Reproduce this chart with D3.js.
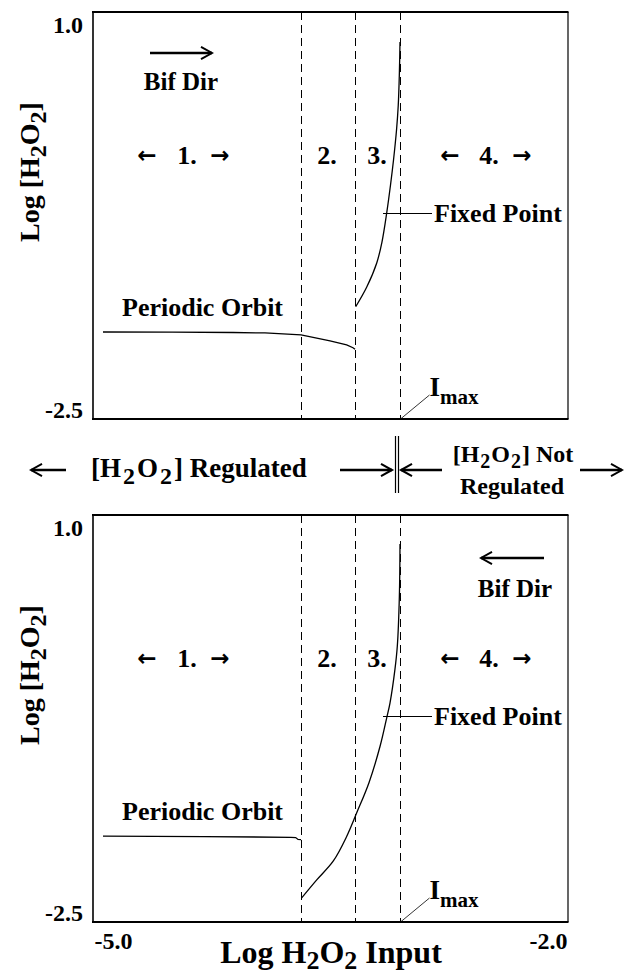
<!DOCTYPE html>
<html>
<head>
<meta charset="utf-8">
<script src="https://cdn.jsdelivr.net/npm/d3@7"></script>
<style>
  html, body { margin: 0; padding: 0; background: #fff; }
  svg { display: block; }
  text { font-family: "Liberation Serif", "Times New Roman", serif; font-weight: bold; fill: #000; }
  text.arw { font-family: "DejaVu Sans", sans-serif; }
</style>
</head>
<body>
<svg id="chart" width="636" height="979"></svg>
<script>
// Axis ranges: log H2O2 input (bifurcation parameter) vs log [H2O2]
const xDomain = [-5.0, -2.0];
const yDomain = [-2.5, 1.0];
const xTickValues = [-5.0, -2.0];
const xTickLabels = ["-5.0", "-2.0"];
const yTickValues = [1.0, -2.5];
const yTickLabels = ["1.0", "-2.5"];

// Dashed region boundaries; the last one is I_max
const regionBounds = [-3.686, -3.345, -3.061];

// Upper panel (continuation with increasing input)
const periodicUpX = [-4.937, -4.5, -4.116, -3.914, -3.686, -3.503, -3.398, -3.358, -3.345];
const periodicUpY = [-1.752, -1.753, -1.756, -1.760, -1.777, -1.829, -1.863, -1.887, -1.900];
const fixedUpX = [-3.341, -3.271, -3.208, -3.175, -3.145, -3.121, -3.102, -3.083, -3.072, -3.065, -3.061];
const fixedUpY = [-1.535, -1.365, -1.158, -0.978, -0.728, -0.488, -0.273, -0.015, 0.200, 0.475, 0.742];

// Lower panel (continuation with decreasing input)
const periodicDownX = [-4.937, -4.3, -3.75, -3.72, -3.705, -3.686];
const periodicDownY = [-1.762, -1.765, -1.772, -1.774, -1.790, -1.792];
const fixedDownX = [-3.682, -3.587, -3.482, -3.398, -3.335, -3.257, -3.187, -3.145, -3.124, -3.093, -3.078, -3.065, -3.061];
const fixedDownY = [-2.293, -2.138, -1.975, -1.765, -1.563, -1.302, -0.989, -0.744, -0.615, -0.328, -0.127, 0.304, 0.750];

const svg = d3.select("#chart");
const left = 93, right = 568, panelH = 407;
const x = d3.scaleLinear().domain(xDomain).range([left, right]);
const crisp = v => Math.round(v) + 0.5;

function arrow(g, x1, y, x2, width, head) {
  // straight arrow from x1 to x2 with an open chevron head at x2
  const dir = x2 > x1 ? 1 : -1;
  g.append("line").attr("x1", x1).attr("y1", y).attr("x2", x2).attr("y2", y)
    .attr("stroke", "#000").attr("stroke-width", width);
  g.append("path")
    .attr("d", `M${x2 - dir * head},${y - head * 0.55} L${x2},${y} L${x2 - dir * head},${y + head * 0.55}`)
    .attr("fill", "none").attr("stroke", "#000").attr("stroke-width", width * 0.8);
}

function h2o2(sel, prefix, suffix, subSize, subDy, gap) {
  // writes prefix + "H2O2" + suffix with lowered 2s
  sel.append("tspan").text(prefix + "H");
  sel.append("tspan").attr("dx", gap).attr("dy", subDy).attr("font-size", subSize).text("2");
  sel.append("tspan").attr("dx", gap).attr("dy", -subDy).text("O");
  sel.append("tspan").attr("dx", gap).attr("dy", subDy).attr("font-size", subSize).text("2");
  sel.append("tspan").attr("dx", gap).attr("dy", -subDy).text(suffix);
}

function drawPanel(top, periodicX, periodicY, fixedX, fixedY, forward) {
  const y = d3.scaleLinear().domain(yDomain).range([top + panelH, top]);
  const g = svg.append("g");

  // region boundaries
  g.selectAll("line.bound").data(regionBounds).join("line")
    .attr("class", "bound")
    .attr("x1", d => crisp(x(d))).attr("x2", d => crisp(x(d)))
    .attr("y1", top).attr("y2", top + panelH)
    .attr("stroke", "#000").attr("stroke-width", 1).attr("stroke-dasharray", "8,5");

  // y axis labels (no tick marks)
  const yAxis = d3.axisLeft(y).tickValues(yTickValues).tickSize(0).tickPadding(10)
    .tickFormat((d, i) => yTickLabels[i]);
  const ya = g.append("g").attr("transform", `translate(${left},0)`).call(yAxis);
  ya.select(".domain").remove();
  ya.selectAll("text").attr("font-family", null).attr("font-size", 24)
    .attr("dy", (d, i) => i === 0 ? "0.85em" : "-0.05em");

  // frame
  g.append("line").attr("x1", left - 1).attr("x2", right + 0.5).attr("y1", top).attr("y2", top)
    .attr("stroke", "#000").attr("stroke-width", 2);
  g.append("line").attr("x1", left - 1).attr("x2", right + 0.5).attr("y1", top + panelH).attr("y2", top + panelH)
    .attr("stroke", "#000").attr("stroke-width", 2);
  g.append("line").attr("x1", left).attr("x2", left).attr("y1", top).attr("y2", top + panelH)
    .attr("stroke", "#000").attr("stroke-width", 1.6);
  g.append("line").attr("x1", right).attr("x2", right).attr("y1", top).attr("y2", top + panelH)
    .attr("stroke", "#000").attr("stroke-width", 1.2);

  // periodic orbit branch
  const pts = periodicX.map((v, i) => [x(v), y(periodicY[i])]);
  g.append("path").attr("d", d3.line().curve(d3.curveLinear)(pts))
    .attr("fill", "none").attr("stroke", "#000").attr("stroke-width", 1.3);

  // fixed point branch
  const fpts = fixedX.map((v, i) => [x(v), y(fixedY[i])]);
  g.append("path").attr("d", d3.line().curve(d3.curveCatmullRom.alpha(0.5))(fpts))
    .attr("fill", "none").attr("stroke", "#000").attr("stroke-width", 1.3);

  // y axis title
  const yt = g.append("text")
    .attr("transform", `translate(39,${top + 160}) rotate(-90)`)
    .attr("text-anchor", "middle").attr("font-size", 28);
  h2o2(yt, "Log [", "]", 24, 7, 0);

  // region labels
  const ry = top + 152;
  const lab = (tx, t) => g.append("text").attr("x", tx).attr("y", ry)
    .attr("text-anchor", "middle").attr("font-size", 26).text(t);
  const arw = (tx, t) => g.append("text").attr("class", "arw").attr("x", tx).attr("y", ry - 1)
    .attr("text-anchor", "middle").attr("font-size", 23).text(t);
  arw(147, "\u2190"); lab(187, "1."); arw(220, "\u2192");
  lab(327, "2."); lab(377, "3.");
  arw(450, "\u2190"); lab(489, "4."); arw(522, "\u2192");

  // Bif Dir
  if (forward) {
    arrow(g, 150, top + 41, 212, 2.4, 11);
    g.append("text").attr("x", 181).attr("y", top + 78).attr("text-anchor", "middle")
      .attr("font-size", 25).text("Bif Dir");
  } else {
    arrow(g, 544, top + 43, 481, 2.4, 11);
    g.append("text").attr("x", 515).attr("y", top + 82).attr("text-anchor", "middle")
      .attr("font-size", 25).text("Bif Dir");
  }

  // Periodic Orbit label
  g.append("text").attr("x", 122).attr("y", y(periodicY[0]) - 16)
    .attr("font-size", 26).text("Periodic Orbit");

  // Fixed Point label with leader
  const fy = top + 201;
  g.append("line").attr("x1", 383).attr("x2", 432).attr("y1", fy + 0.5).attr("y2", fy + 0.5)
    .attr("stroke", "#000").attr("stroke-width", 1);
  g.append("text").attr("x", 434).attr("y", fy + 9).attr("font-size", 26).text("Fixed Point");

  // I_max label with leader
  const ix = crisp(x(regionBounds[2]));
  g.append("line").attr("x1", ix).attr("y1", top + panelH)
    .attr("x2", ix + 29).attr("y2", top + panelH - 24)
    .attr("stroke", "#000").attr("stroke-width", 0.8);
  const it = g.append("text").attr("x", ix + 29).attr("y", top + panelH - 23).attr("font-size", 27);
  it.append("tspan").text("I");
  it.append("tspan").attr("dy", 8).attr("font-size", 21).text("max");

  return y;
}

drawPanel(12, periodicUpX, periodicUpY, fixedUpX, fixedUpY, true);
drawPanel(515, periodicDownX, periodicDownY, fixedDownX, fixedDownY, false);

// Bottom x axis labels
const xa = svg.append("g").attr("transform", `translate(0,${515 + panelH})`)
  .call(d3.axisBottom(x).tickValues(xTickValues).tickSize(0).tickPadding(10)
    .tickFormat((d, i) => xTickLabels[i]));
xa.select(".domain").remove();
xa.selectAll("text").attr("font-family", null).attr("font-size", 24)
  .attr("text-anchor", (d, i) => i === 0 ? "start" : "end")
  .attr("dx", (d, i) => i === 0 ? "1" : "-1");

const xt = svg.append("text").attr("x", 331).attr("y", 963)
  .attr("text-anchor", "middle").attr("font-size", 32);
h2o2(xt, "Log ", " Input", 26, 6, 0);

// Middle: regulated / not regulated band
const mid = svg.append("g");
arrow(mid, 66, 470, 31, 2.4, 11);
const reg = mid.append("text").attr("x", 91).attr("y", 477).attr("font-size", 27);
h2o2(reg, "[", "] Regulated", 24, 7, 2);
arrow(mid, 340, 470, 392, 2.6, 11);
mid.append("line").attr("x1", 395.5).attr("x2", 395.5).attr("y1", 436).attr("y2", 493)
  .attr("stroke", "#000").attr("stroke-width", 1.2);
mid.append("line").attr("x1", 398.5).attr("x2", 398.5).attr("y1", 436).attr("y2", 493)
  .attr("stroke", "#000").attr("stroke-width", 1.2);
arrow(mid, 442, 470, 401, 2.6, 11);
const nr = mid.append("text").attr("x", 513).attr("y", 462).attr("text-anchor", "middle").attr("font-size", 24);
h2o2(nr, "[", "] Not", 20, 6, 1);
mid.append("text").attr("x", 512).attr("y", 494).attr("text-anchor", "middle").attr("font-size", 24).text("Regulated");
arrow(mid, 580, 470, 622, 2.4, 11);
</script>
</body>
</html>
